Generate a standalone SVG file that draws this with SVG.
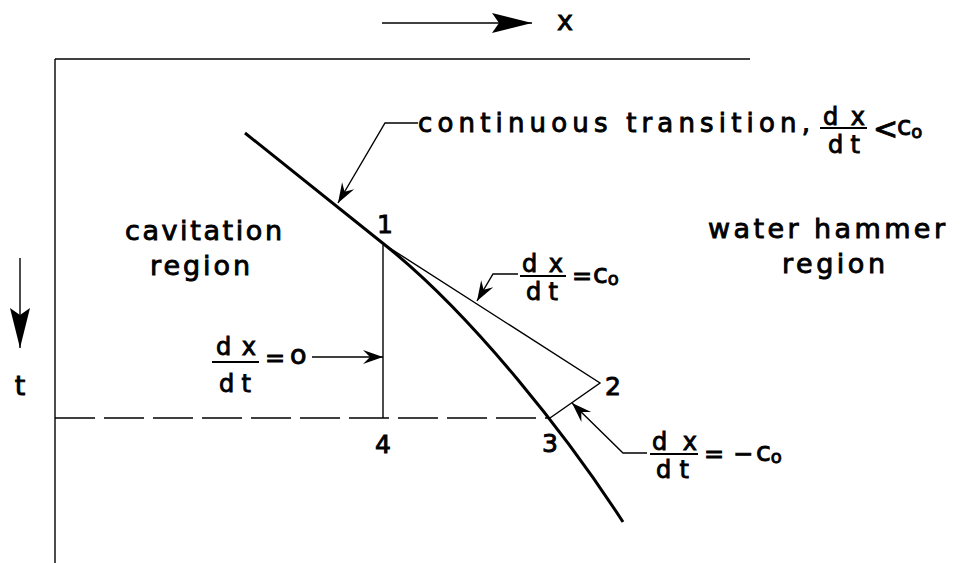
<svg xmlns="http://www.w3.org/2000/svg" width="971" height="563" viewBox="0 0 971 563">
<style>
.t{font-family:"DejaVu Sans","Liberation Sans",sans-serif;fill:#000;stroke:#000;stroke-width:0.9}
.big{font-size:27px}
.fr{font-size:24px}
.num{font-size:25px}
.thin{stroke:#000;stroke-width:1.4;fill:none}
.thick{stroke:#000;stroke-width:3;fill:none}
.bar{stroke:#000;stroke-width:2.2}
</style>
<defs>
<marker id="ah" markerUnits="userSpaceOnUse" viewBox="-22 -9 24 18" markerWidth="24" markerHeight="18" refX="0" refY="0" orient="auto">
<path d="M0,0 L-20,-7 L-13,0 L-20,7 Z" fill="#000"/>
</marker>
<marker id="axh" markerUnits="userSpaceOnUse" viewBox="-42 -12 44 24" markerWidth="44" markerHeight="24" refX="0" refY="0" orient="auto">
<path d="M0,0 L-40,-10 L-33,0 L-40,10 Z" fill="#000"/>
</marker>
</defs>
<rect width="971" height="563" fill="#fff"/>

<g id="frame">
<line x1="55" y1="59" x2="750" y2="59" class="thin"/>
<line x1="55" y1="59" x2="55" y2="563" class="thin"/>
<line x1="55" y1="418" x2="548" y2="418" class="thin" stroke-dasharray="40 9"/>
</g>

<g id="characteristics">
<path d="M245,133 L385,245 C475,317 570,440 623,522" class="thick"/>
<polyline points="385,245 600,383 550,418" class="thin"/>
<line x1="383" y1="245" x2="383" y2="418" class="thin"/>
</g>

<g id="connectors">
<line x1="382" y1="23" x2="532" y2="23" class="thin" marker-end="url(#axh)"/>
<line x1="20" y1="258" x2="20" y2="348" class="thin" marker-end="url(#axh)"/>
<polyline points="418,123 385,123 338,203" class="thin" marker-end="url(#ah)"/>
<polyline points="518,274 493,274 477,301" class="thin" marker-end="url(#ah)"/>
<line x1="312" y1="357" x2="383" y2="357" class="thin" marker-end="url(#ah)"/>
<polyline points="647,453 623,453 572,403" class="thin" marker-end="url(#ah)"/>
</g>

<g id="axis-x"><text class="t big" x="565" y="30" text-anchor="middle">x</text></g>
<g id="axis-t"><text class="t big" x="20" y="395" text-anchor="middle">t</text></g>

<g id="label-continuous">
<text class="t" font-size="26" x="418" y="132" textLength="392" lengthAdjust="spacing">continuous transition,</text>
<text class="t fr" x="823" y="125" textLength="42" lengthAdjust="spacing">dx</text>
<line x1="820" y1="128" x2="867" y2="128" class="bar"/>
<text class="t fr" x="828" y="153" textLength="32" lengthAdjust="spacing">dt</text>
<text class="t" font-size="30" x="873" y="139" stroke-width="0.3">&lt;</text>
<text class="t" font-size="26" x="897" y="135">c<tspan font-size="18" dy="3">o</tspan></text>
</g>

<g id="label-cavitation">
<text class="t big" x="125" y="240" textLength="157" lengthAdjust="spacing">cavitation</text>
<text class="t big" x="150" y="275" textLength="100" lengthAdjust="spacing">region</text>
</g>

<g id="label-waterhammer">
<text class="t big" x="708" y="238" textLength="237" lengthAdjust="spacing">water hammer</text>
<text class="t big" x="782" y="273" textLength="103" lengthAdjust="spacing">region</text>
</g>

<g id="point-1"><text class="t num" x="385" y="233" text-anchor="middle">1</text></g>
<g id="point-2"><text class="t num" x="613" y="395" text-anchor="middle">2</text></g>
<g id="point-3"><text class="t num" x="550" y="452" text-anchor="middle">3</text></g>
<g id="point-4"><text class="t num" x="383" y="453" text-anchor="middle">4</text></g>

<g id="label-c0">
<text class="t fr" x="522" y="272" textLength="41" lengthAdjust="spacing">dx</text>
<line x1="520" y1="276" x2="566" y2="276" class="bar"/>
<text class="t fr" x="526" y="300" textLength="32" lengthAdjust="spacing">dt</text>
<text class="t" font-size="24" x="572" y="284">=</text>
<text class="t" font-size="27" x="593" y="283">c<tspan font-size="18" dy="2">o</tspan></text>
</g>

<g id="label-zero">
<text class="t fr" x="216" y="355" textLength="40" lengthAdjust="spacing">dx</text>
<line x1="212" y1="362" x2="259" y2="362" class="bar"/>
<text class="t fr" x="219" y="392" textLength="32" lengthAdjust="spacing">dt</text>
<text class="t" font-size="24" x="265" y="366">=</text>
<text class="t" font-size="27" x="290" y="364">o</text>
</g>

<g id="label-minus-c0">
<text class="t fr" x="652" y="450" textLength="45" lengthAdjust="spacing">dx</text>
<line x1="650" y1="454" x2="698" y2="454" class="bar"/>
<text class="t fr" x="656" y="478" textLength="33" lengthAdjust="spacing">dt</text>
<text class="t" font-size="24" x="704" y="462">=</text>
<text class="t" font-size="24" x="733" y="462">−</text>
<text class="t" font-size="27" x="756" y="461">c<tspan font-size="18" dy="2">o</tspan></text>
</g>
</svg>
